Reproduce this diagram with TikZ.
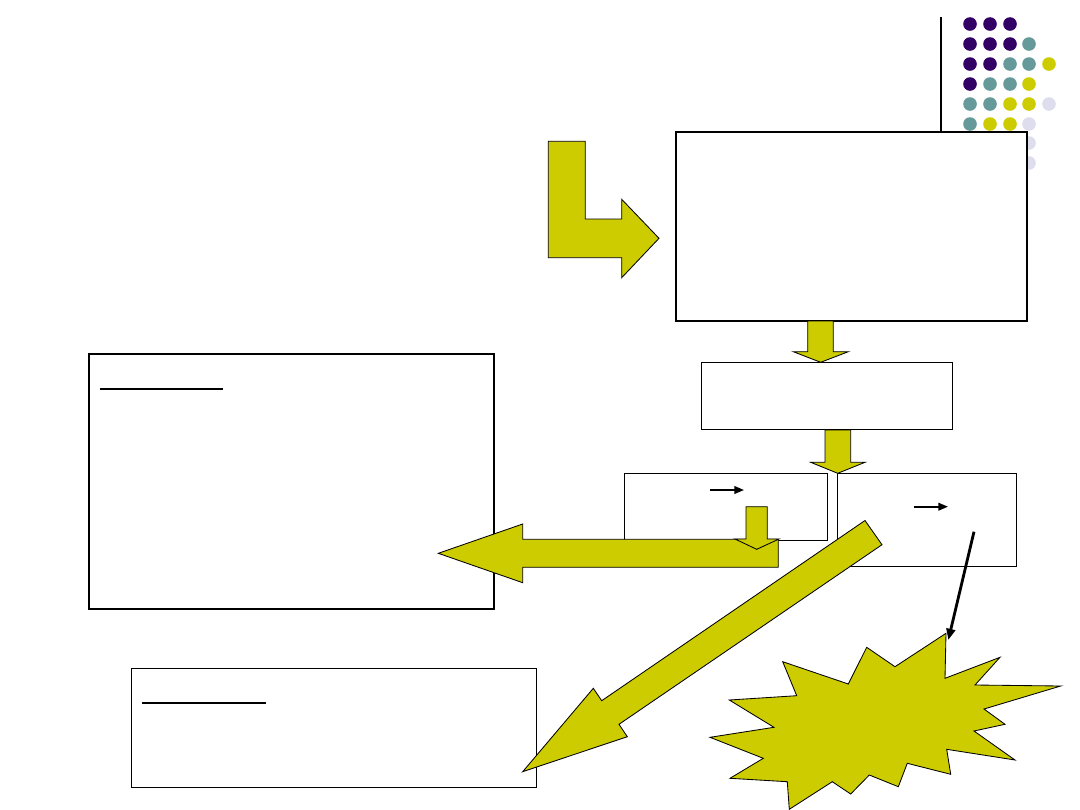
\documentclass[tikz,border=0pt]{standalone}
\usepackage{tikz}
\usetikzlibrary{arrows.meta}
\definecolor{SlideOlive}{RGB}{204,204,0}
\definecolor{SlidePurple}{RGB}{51,0,102}
\definecolor{SlideTeal}{RGB}{102,153,153}
\definecolor{SlideLilac}{RGB}{221,221,238}
\tikzset{
  framebox/.style={draw=black,line width=1.4pt,fill=white,inner sep=0pt},
  thinbox/.style={draw=black,line width=0.8pt,fill=white,inner sep=0pt},
  blockarrow/.style={draw=black,line width=0.6pt,fill=SlideOlive,line join=miter},
  titlerule/.style={line width=1.4pt},
  smallarrow/.style={-{Triangle[length=2.4mm,width=1.9mm]},line width=1.3pt},
  pointer/.style={-{Triangle[length=2.8mm,width=2.2mm]},line width=2pt},
}

\begin{document}
\begin{tikzpicture}[x=0.025cm,y=-0.025cm]
  \useasboundingbox (0,0) rectangle (1080,810);

  % corner decoration
  \draw[line width=0.8pt] (941,17) -- (941,132);
  \foreach \px/\py/\col in {970/24/SlidePurple,990/24/SlidePurple,1010/24/SlidePurple,
      970/44/SlidePurple,990/44/SlidePurple,1010/44/SlidePurple,1029/44/SlideTeal,
      970/64/SlidePurple,990/64/SlidePurple,1010/64/SlideTeal,1029/64/SlideTeal,1049/64/SlideOlive,
      970/84/SlidePurple,990/84/SlideTeal,1010/84/SlideTeal,1029/84/SlideOlive,
      970/104/SlideTeal,990/104/SlideTeal,1010/104/SlideOlive,1029/104/SlideOlive,1049/104/SlideLilac,
      970/124/SlideTeal,990/124/SlideOlive,1010/124/SlideOlive,1029/124/SlideLilac,
      1029/143/SlideLilac,1029/163/SlideLilac}
    \fill[\col] (\px,\py) circle[radius=0.17cm];

  % boxes
  \node[framebox,minimum width=8.775cm,minimum height=4.725cm] (topbox) at (851.5,226.5) {};
  \node[thinbox,minimum width=6.285cm,minimum height=1.675cm] (midbox) at (827,395.8) {};
  \node[thinbox,minimum width=5.075cm,minimum height=1.675cm] (leftcase) at (726.2,506.8) {};
  \node[thinbox,minimum width=4.485cm,minimum height=2.335cm] (rightcase) at (927,520) {};
  \node[framebox,minimum width=10.125cm,minimum height=6.383cm] (notebox) at (291.8,481.7) {};
  \node[thinbox,minimum width=10.125cm,minimum height=2.958cm] (resultbox) at (334.2,727.9) {};

  \draw[titlerule] (100,388.7) -- (223.3,388.7);
  \draw[line width=1.1pt] (142,703) -- (266,703);

  % block arrows
  \draw[blockarrow] (548.3,141.3) -- (585.3,141.3) -- (585.3,219) -- (621.7,219)
    -- (621.7,199.3) -- (659,238.3) -- (621.7,277.7) -- (621.7,257.7)
    -- (548.3,257.7) -- cycle;
  \draw[blockarrow] (807.7,321) -- (833.3,321) -- (833.3,351.7) -- (848.3,351.7)
    -- (820.7,362.3) -- (793.3,351.7) -- (807.7,351.7) -- cycle;
  \draw[blockarrow] (825,430) -- (850.7,430) -- (850.7,462.3) -- (865,462.3)
    -- (837.7,473.3) -- (810.7,462.3) -- (825,462.3) -- cycle;
  \draw[blockarrow] (778.3,539.3) -- (522.7,539.3) -- (522.7,524) -- (438.3,553.3)
    -- (522.7,582.7) -- (522.7,567.3) -- (778.3,567.3) -- cycle;
  \draw[blockarrow] (746,506.7) -- (767.3,506.7) -- (767.3,539) -- (779,539)
    -- (756.7,549.3) -- (735,539) -- (746,539) -- cycle;
  \draw[blockarrow] (865,520.5) -- (882,544.7) -- (619,724.3) -- (627.3,736.7)
    -- (522.7,771.7) -- (593.3,688.3) -- (601.7,700.7) -- cycle;

  % burst
  \draw[blockarrow] (946,633.3) -- (945,678.3) -- (1000,657.3) -- (975,685)
    -- (1060.7,686) -- (984,709) -- (1005,724.3) -- (974,731) -- (1015,760)
    -- (946.7,749.3) -- (950.7,774.3) -- (907.3,763.3) -- (898.3,786.7)
    -- (869.3,775) -- (850.7,794) -- (832.3,781.7) -- (789.3,809.3)
    -- (787.3,781.7) -- (730,778.3) -- (763.3,758.3) -- (710,737.3)
    -- (774,727.3) -- (729.3,700) -- (796.7,695.7) -- (782.7,661.7)
    -- (848.3,684) -- (866.7,647.3) -- (895,666.7) -- cycle;
  \coordinate (bursttop) at (948.3,640);

  % small arrows and pointer
  \draw[smallarrow] (710,490) -- (744,490);
  \draw[smallarrow] (914,506.7) -- (948,506.7);
  \coordinate (pointstart) at (974,531.7);
  \draw[pointer] (pointstart) -- (bursttop);
\end{tikzpicture}
\end{document}
